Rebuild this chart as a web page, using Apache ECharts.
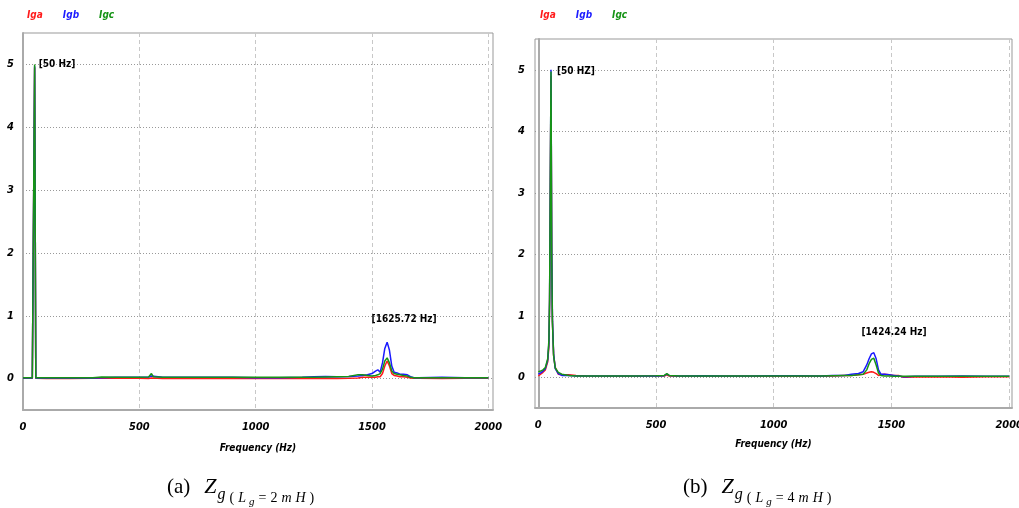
<!DOCTYPE html>
<html>
<head>
<meta charset="utf-8">
<script src="https://cdn.jsdelivr.net/npm/echarts@6/dist/echarts.min.js"></script>
<style>html,body{margin:0;padding:0;background:#fff;}#c{width:1019px;height:508px;}</style>
</head>
<body>
<div id="c"></div>
<script>
// ---------- data (a) Lg = 2mH ----------
const freqA = [0, 20, 40, 45, 50, 55, 60, 100, 200, 300,
  338, 345, 400, 500, 540, 552, 560, 600, 700, 800,
  845, 851, 857, 900, 1000, 1100, 1200, 1250, 1300, 1350,
  1400, 1440, 1460, 1480, 1500, 1515, 1525, 1535, 1545, 1555,
  1565, 1575, 1585, 1595, 1608, 1620, 1635, 1652, 1665, 1680,
  1700, 1800, 1900, 2000];
const igaA = [0.005, 0.005, 0.005, 0.005, 4.95, 0.005, 0.0, 0.0, 0.0, 0.005,
  0.005, 0.01, 0.01, 0.005, 0.0, 0.01, 0.0, 0.0, 0.0, 0.0,
  0.0, 0.01, 0.0, 0.0, 0.0, 0.005, 0.0, 0.0, 0.005, 0.0,
  0.005, 0.01, 0.02, 0.02, 0.02, 0.02, 0.03, 0.03, 0.08, 0.2,
  0.28, 0.2, 0.08, 0.05, 0.04, 0.03, 0.03, 0.02, 0.01, 0.005,
  0.005, 0.0, 0.005, 0.005];
const igbA = [0.01, 0.01, 0.01, 0.01, 4.97, 0.01, 0.01, 0.01, 0.015, 0.01,
  0.015, 0.02, 0.02, 0.02, 0.025, 0.04, 0.025, 0.02, 0.02, 0.02,
  0.02, 0.03, 0.02, 0.02, 0.015, 0.015, 0.02, 0.03, 0.035, 0.03,
  0.035, 0.04, 0.05, 0.06, 0.08, 0.12, 0.14, 0.1, 0.25, 0.48,
  0.58, 0.45, 0.2, 0.1, 0.09, 0.07, 0.07, 0.06, 0.03, 0.015,
  0.015, 0.02, 0.015, 0.015];
const igcA = [0.015, 0.015, 0.015, 0.015, 5.0, 0.015, 0.015, 0.015, 0.015, 0.015,
  0.025, 0.025, 0.02, 0.02, 0.025, 0.08, 0.03, 0.02, 0.02, 0.02,
  0.02, 0.045, 0.02, 0.02, 0.02, 0.02, 0.02, 0.02, 0.025, 0.03,
  0.035, 0.06, 0.06, 0.05, 0.04, 0.05, 0.06, 0.08, 0.15, 0.28,
  0.33, 0.25, 0.12, 0.08, 0.07, 0.06, 0.05, 0.04, 0.02, 0.015,
  0.015, 0.015, 0.015, 0.015];

// ---------- data (b) Lg = 4mH ----------
const freqB = [0, 10, 20, 30, 40, 45, 48, 51, 54, 57,
  60, 65, 72, 85, 100, 130, 160, 200, 300, 400,
  500, 535, 546, 556, 600, 700, 800, 845, 850, 855,
  900, 1000, 1100, 1200, 1250, 1300, 1330, 1360, 1380, 1395,
  1405, 1415, 1425, 1435, 1445, 1455, 1470, 1490, 1510, 1530,
  1550, 1560, 1600, 1700, 1800, 1900, 2000];
const igaB = [0.02, 0.05, 0.08, 0.12, 0.25, 0.5, 1.2, 3.0, 4.9, 2.0,
  0.9, 0.36, 0.16, 0.05, 0.04, 0.04, 0.03, 0.02, 0.015, 0.015,
  0.02, 0.02, 0.04, 0.02, 0.015, 0.015, 0.015, 0.015, 0.02, 0.015,
  0.015, 0.015, 0.015, 0.015, 0.02, 0.03, 0.03, 0.04, 0.05, 0.07,
  0.08, 0.09, 0.08, 0.06, 0.03, 0.04, 0.05, 0.04, 0.03, 0.03,
  0.0, 0.0, 0.005, 0.01, 0.0, 0.01, 0.01];
const igbB = [0.05, 0.07, 0.1, 0.14, 0.28, 0.55, 1.25, 3.1, 5.0, 2.1,
  0.95, 0.38, 0.14, 0.06, 0.03, 0.03, 0.02, 0.02, 0.02, 0.02,
  0.02, 0.025, 0.05, 0.03, 0.02, 0.025, 0.02, 0.02, 0.035, 0.02,
  0.02, 0.025, 0.025, 0.02, 0.03, 0.03, 0.05, 0.06, 0.09, 0.2,
  0.3, 0.38, 0.4, 0.3, 0.12, 0.05, 0.05, 0.04, 0.03, 0.02,
  0.01, 0.01, 0.015, 0.015, 0.02, 0.015, 0.015];
const igcB = [0.09, 0.1, 0.12, 0.16, 0.3, 0.6, 1.3, 3.2, 4.97, 2.0,
  0.9, 0.35, 0.15, 0.08, 0.05, 0.03, 0.02, 0.02, 0.02, 0.02,
  0.025, 0.03, 0.06, 0.03, 0.02, 0.02, 0.02, 0.02, 0.04, 0.02,
  0.02, 0.02, 0.02, 0.02, 0.025, 0.03, 0.03, 0.04, 0.05, 0.12,
  0.22, 0.29, 0.31, 0.2, 0.07, 0.03, 0.02, 0.02, 0.015, 0.015,
  0.015, 0.015, 0.015, 0.015, 0.015, 0.015, 0.015];

const seriesNames = ['Iga', 'Igb', 'Igc'];
const seriesColors = ['#ff1a1a', '#1a1aff', '#169416'];
const xTicks = [0, 500, 1000, 1500, 2000];
const yTicks = [0, 1, 2, 3, 4, 5];
const xName = 'Frequency (Hz)';
const peakLabelsA = [{ text: '[50 Hz]', at: [50, 5] }, { text: '[1625.72 Hz]', at: [1638, 0.94] }];
const peakLabelsB = [{ text: '[50 HZ]', at: [62, 4.97] }, { text: '[1424.24 Hz]', at: [1511, 0.73] }];

const narrow = "'Liberation Sans Narrow', 'Arial Narrow', 'DejaVu Sans Condensed', 'Liberation Sans', sans-serif";
const zip = (xs, ys) => xs.map((x, i) => [x, ys[i]]);

function xAxisCfg(gi, min, max, gap) {
  return {
    type: 'value', gridIndex: gi, min: min, max: max,
    name: xName, nameLocation: 'middle', nameGap: gap,
    nameTextStyle: { fontFamily: narrow, fontStyle: 'italic', fontWeight: 'bold', fontSize: 10, color: '#000' },
    axisLine: { show: true, onZero: false, lineStyle: { color: '#aaa', width: 2 } },
    axisTick: { show: false, customValues: xTicks },
    axisLabel: { customValues: xTicks, margin: 12, formatter: v => String(v), fontFamily: narrow, fontStyle: 'italic', fontWeight: 'bold', fontSize: 11, color: '#000' },
    splitLine: { show: true, lineStyle: { color: '#c8c8c8', type: [4, 3], width: 1 } }
  };
}
function yAxisCfg(gi, margin) {
  return {
    type: 'value', gridIndex: gi, min: -0.5, max: 5.5,
    axisLine: { show: true, lineStyle: { color: '#aaa', width: 2 } },
    axisTick: { show: false, customValues: yTicks },
    axisLabel: { customValues: yTicks, margin: margin, formatter: v => String(v), fontFamily: narrow, fontStyle: 'italic', fontWeight: 'bold', fontSize: 11, color: '#000' },
    splitLine: { show: true, lineStyle: { color: '#999', type: [1, 2], width: 1 } }
  };
}
function mkSeries(gi, freq, vals, idx, labels) {
  const s = {
    name: seriesNames[idx], type: 'line', xAxisIndex: gi, yAxisIndex: gi,
    data: zip(freq, vals), showSymbol: false, symbol: 'none',
    lineStyle: { width: 1.5, color: seriesColors[idx] }, itemStyle: { color: seriesColors[idx] },
    animation: false, z: 2 + idx
  };
  if (labels) {
    s.markPoint = {
      symbol: 'circle', symbolSize: 0, animation: false,
      label: { show: true, fontFamily: narrow, fontWeight: 'bold', fontSize: 10, color: '#000' },
      data: labels.map((l, k) => ({
        coord: l.at, value: l.text,
        label: { formatter: l.text, position: k === 0 ? 'right' : 'inside', distance: 4 }
      }))
    };
  }
  return s;
}
function legendCfg(left) {
  return {
    left: left, top: 10, padding: 0, itemWidth: 0, itemHeight: 0, itemGap: 15, icon: 'none',
    selectedMode: false,
    textStyle: { fontFamily: narrow, fontStyle: 'italic', fontWeight: 'bold', fontSize: 10 },
    data: seriesNames.map((n, i) => ({ name: n, textStyle: { color: seriesColors[i] } }))
  };
}
function captionCfg(left, letter, lg) {
  const serif = "'Liberation Serif', 'DejaVu Serif', serif";
  const base = { fontFamily: serif, fontWeight: 'normal', color: '#000', verticalAlign: 'bottom' };
  const subTokens = '{tu|(}{t|L}{u|g}' +
    lg.split('').map(c => /[0-9]/.test(c) ? '{tu|=}{tu|' + c + '}' : '{t|' + c + '}').join('') + '{tu|)}';
  return {
    left: left, top: 476, padding: 0,
    text: '{p|(' + letter + ')}{z|Z}{s|g}' + subTokens,
    textStyle: {
      fontWeight: 'normal',
      rich: {
        p: Object.assign({}, base, { fontSize: 21, padding: [0, 14, 10, 0] }),
        z: Object.assign({}, base, { fontStyle: 'italic', fontSize: 22, padding: [0, 0, 10, 0] }),
        s: Object.assign({}, base, { fontStyle: 'italic', fontSize: 16, padding: [0, 2, 5, 1] }),
        t: Object.assign({}, base, { fontStyle: 'italic', fontSize: 14, padding: [0, 2, 3, 2] }),
        tu: Object.assign({}, base, { fontSize: 14, padding: [0, 2, 3, 2] }),
        u: Object.assign({}, base, { fontStyle: 'italic', fontSize: 11, padding: [0, 2, 0, 1] })
      }
    }
  };
}

const chart = echarts.init(document.getElementById('c'), null, { renderer: 'canvas' });
chart.setOption({
  animation: false,
  backgroundColor: '#fff',
  title: [captionCfg(167, 'a', '2mH'), captionCfg(683, 'b', '4mH')],
  legend: [legendCfg(22), legendCfg(535)],
  grid: [
    { left: 23, top: 33, width: 470, height: 377, outerBoundsMode: 'none', containLabel: false, show: true, borderColor: '#999', borderWidth: 1, backgroundColor: 'transparent' },
    { left: 535, top: 39, width: 477, height: 369, outerBoundsMode: 'none', containLabel: false, show: true, borderColor: '#999', borderWidth: 1, backgroundColor: 'transparent' }
  ],
  xAxis: [xAxisCfg(0, 0, 2020, 33), xAxisCfg(1, -14, 2012, 31)],
  yAxis: [yAxisCfg(0, 9), yAxisCfg(1, 10)],
  series: [
    mkSeries(0, freqA, igaA, 0),
    mkSeries(0, freqA, igbA, 1),
    mkSeries(0, freqA, igcA, 2, peakLabelsA),
    mkSeries(1, freqB, igaB, 0),
    mkSeries(1, freqB, igbB, 1),
    mkSeries(1, freqB, igcB, 2, peakLabelsB)
  ]
});
</script>
</body>
</html>
